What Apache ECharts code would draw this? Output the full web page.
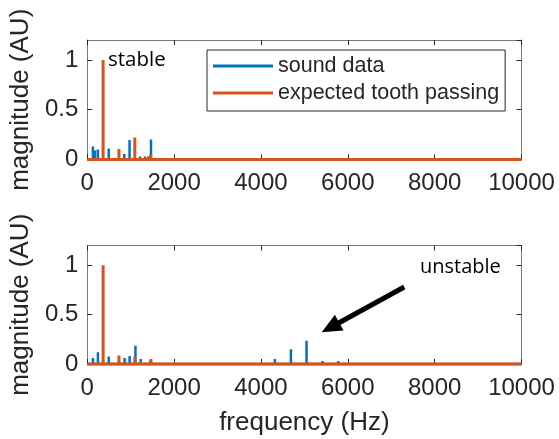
<!DOCTYPE html>
<html>
<head>
<meta charset="utf-8">
<script src="https://cdn.jsdelivr.net/npm/echarts@6/dist/echarts.min.js"></script>
<style>html,body{margin:0;padding:0;background:#fff;}#c{width:559px;height:439px;}</style>
</head>
<body>
<div id="c"></div>
<script>
// ---- data ----
const xTicks = [0, 2000, 4000, 6000, 8000, 10000];
const xTickLabels = ['0', '2000', '4000', '6000', '8000', '10000'];
const yTicks = [0, 0.5, 1];
const yTickLabels = ['0', '0.5', '1'];
const seriesNames = ['sound data', 'expected tooth passing'];

// stable (top panel)
const stableSoundFreq = [130, 176, 244, 495, 852, 974, 1217, 1331, 1407, 1468, 1787, 1863, 2016];
const stableSoundMag  = [0.13, 0.09, 0.10, 0.11, 0.055, 0.196, 0.03, 0.03, 0.03, 0.20, 0.02, 0.02, 0.01];
const stableToothFreq = [365, 730, 1095, 1460];
const stableToothMag  = [1.0, 0.105, 0.22, 0.05];

// unstable (bottom panel)
const unstableSoundFreq = [130, 245, 495, 860, 975, 1110, 1230, 1355, 1470, 1710, 1850, 3990, 4320, 4690, 4810, 5050, 5415, 5780];
const unstableSoundMag  = [0.06, 0.12, 0.075, 0.06, 0.08, 0.185, 0.05, 0.02, 0.048, 0.02, 0.015, 0.01, 0.05, 0.15, 0.02, 0.235, 0.03, 0.03];
const unstableToothFreq = [365, 730, 1095, 1460];
const unstableToothMag  = [1.0, 0.085, 0.07, 0.045];

// annotations (data coordinates of the arrow in the bottom panel)
const arrowStart = [7300, 0.78];
const arrowEnd = [5600, 0.37];
const annotations = ['stable', 'unstable'];

// ---- build ----
const xMin = xTicks[0], xMax = xTicks[xTicks.length - 1];
function spectrum(freqs, mags) {
  const pts = [[xMin, 0]];
  freqs.forEach((f, i) => { pts.push([f, 0], [f, mags[i]], [f, 0]); });
  pts.push([xMax, 0]);
  return pts;
}
const BLUE = '#0072BD', ORANGE = '#D95319', AX = '#262626', LINE = '#7a7a7a';
const FONT = '"Liberation Sans", Arial, sans-serif';

function xAxes(gi, withName) {
  const base = {
    type: 'value', gridIndex: gi, min: xMin, max: xMax, interval: xTicks[1] - xTicks[0],
    splitLine: { show: false },
    axisLine: { show: true, onZero: false, lineStyle: { color: LINE, width: 1 } },
    axisTick: { show: true, inside: true, length: 5, lineStyle: { color: AX } }
  };
  return [
    Object.assign({}, base, {
      position: 'bottom',
      axisLabel: { show: true, margin: 12, fontSize: 24, color: AX, fontFamily: FONT,
        formatter: v => { const i = xTicks.indexOf(v); return i >= 0 ? xTickLabels[i] : ''; } },
      name: withName ? 'frequency (Hz)' : '', nameLocation: 'middle', nameGap: 46,
      nameTextStyle: { fontSize: 26, color: AX, fontFamily: FONT }
    }),
    Object.assign({}, base, { position: 'top', axisLabel: { show: false } })
  ];
}
function yAxes(gi) {
  const base = {
    type: 'value', gridIndex: gi, min: 0, max: 1.2, interval: yTicks[1] - yTicks[0],
    splitLine: { show: false },
    axisLine: { show: true, onZero: false, lineStyle: { color: LINE, width: 1 } },
    axisTick: { show: true, inside: true, length: 5, lineStyle: { color: AX } }
  };
  return [
    Object.assign({}, base, {
      position: 'left',
      axisLabel: { show: true, margin: 9, fontSize: 24, color: AX, fontFamily: FONT, showMaxLabel: false,
        formatter: v => { const i = yTicks.indexOf(v); return i >= 0 ? yTickLabels[i] : ''; } },
      name: 'magnitude (AU)', nameLocation: 'middle', nameGap: 48,
      nameTextStyle: { fontSize: 26, color: AX, fontFamily: FONT }
    }),
    Object.assign({}, base, { position: 'right', axisLabel: { show: false } })
  ];
}
function lineSeries(name, data, xi, yi, color, width, extra) {
  return Object.assign({
    name, type: 'line', data, xAxisIndex: xi, yAxisIndex: yi, showSymbol: false, symbol: 'none',
    clip: false, smooth: false, lineStyle: { color, width }, itemStyle: { color }, silent: true
  }, extra || {});
}

const option = {
  animation: false,
  backgroundColor: '#fff',
  grid: [
    { left: 83, top: 40, width: 438.5, height: 119.5, containLabel: false },
    { left: 83, top: 245.5, width: 438.5, height: 118.5, containLabel: false }
  ],
  xAxis: xAxes(0, false).concat(xAxes(1, true)),
  yAxis: yAxes(0).concat(yAxes(1)),
  legend: {
    data: seriesNames, orient: 'vertical', left: 207, top: 50,
    padding: [5, 6, 7, 6], itemGap: 5, itemWidth: 60, itemHeight: 3, icon: 'rect',
    backgroundColor: '#fff', borderColor: AX, borderWidth: 1, borderRadius: 0,
    textStyle: { fontSize: 21.5, lineHeight: 22, color: AX, fontFamily: FONT }
  },
  series: [
    lineSeries(seriesNames[0], spectrum(stableSoundFreq, stableSoundMag), 0, 0, BLUE, 2.5),
    lineSeries(seriesNames[1], spectrum(stableToothFreq, stableToothMag), 0, 0, ORANGE, 3),
    lineSeries(seriesNames[0], spectrum(unstableSoundFreq, unstableSoundMag), 2, 2, BLUE, 2.5),
    lineSeries(seriesNames[1], spectrum(unstableToothFreq, unstableToothMag), 2, 2, ORANGE, 3, {
      markLine: {
        silent: true, animation: false,
        symbol: ['none', 'triangle'], symbolSize: [18, 20],
        lineStyle: { color: '#000', width: 5, type: 'solid' },
        label: { show: false },
        data: [[{ coord: arrowStart }, { coord: arrowEnd }]]
      }
    })
  ],
  graphic: [
    { type: 'text', x: 108, y: 60, style: { text: annotations[0], font: '20.5px "Open Sans", sans-serif', fill: '#000', verticalAlign: 'middle' } },
    { type: 'text', x: 420, y: 267, style: { text: annotations[1], font: '20px "Open Sans", sans-serif', fill: '#000', verticalAlign: 'middle' } }
  ]
};
const chart = echarts.init(document.getElementById('c'), null, { renderer: 'canvas' });
chart.setOption(option);
</script>
</body>
</html>
